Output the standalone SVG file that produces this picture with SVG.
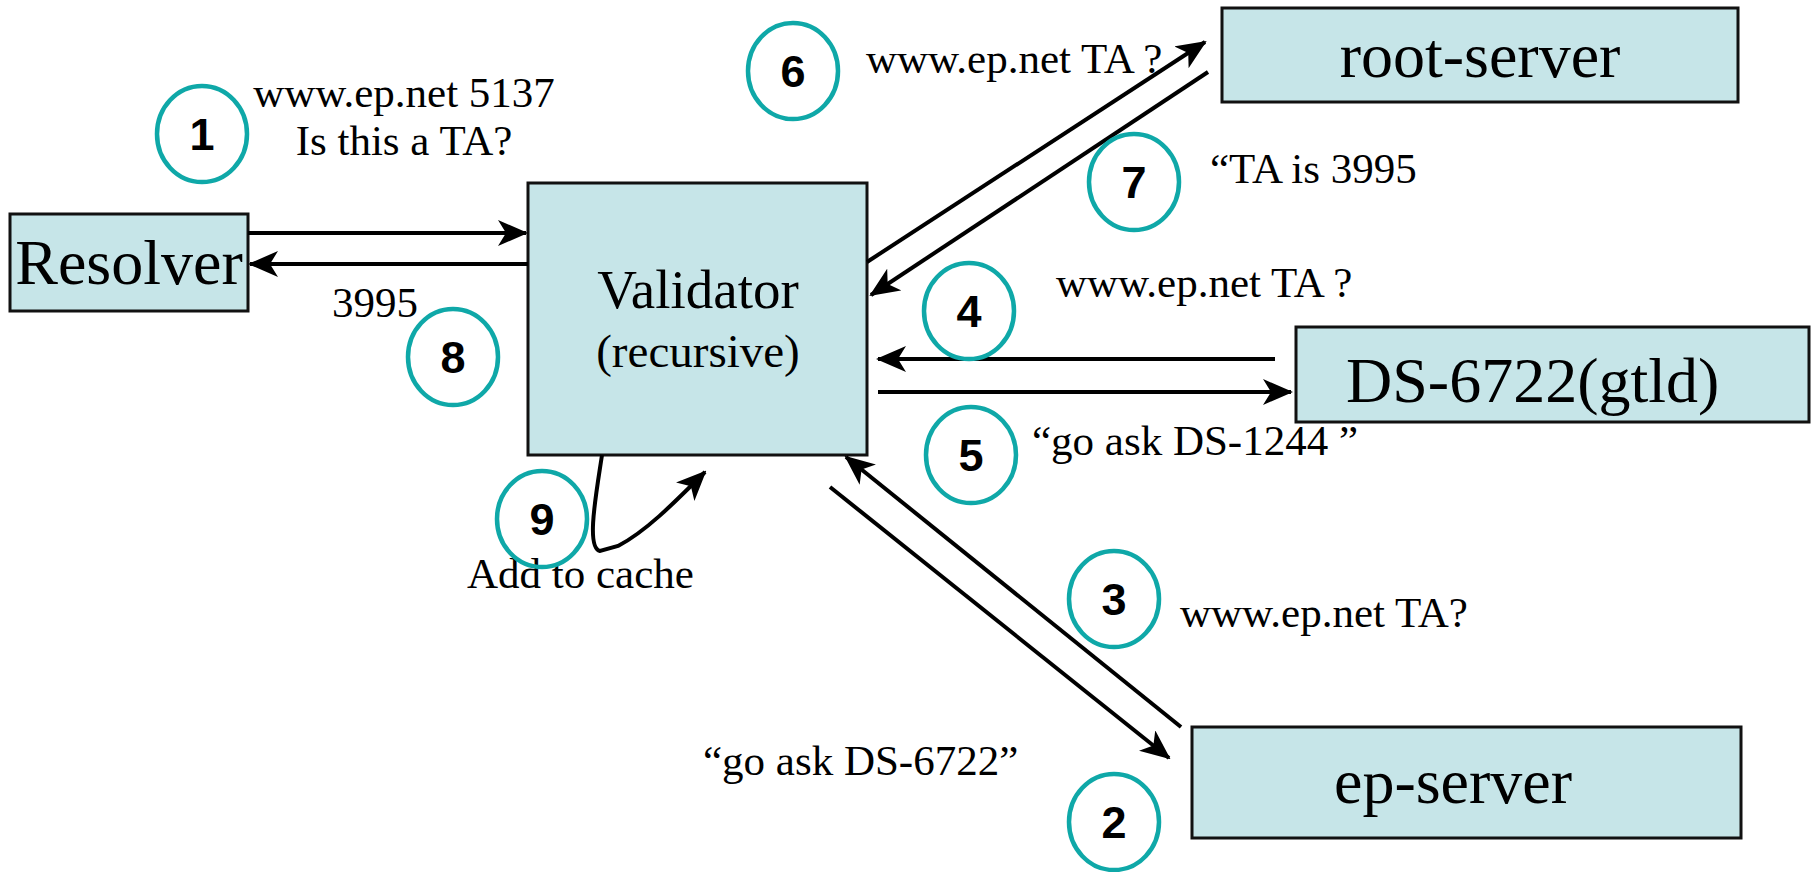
<svg xmlns="http://www.w3.org/2000/svg" width="1811" height="872" viewBox="0 0 1811 872">
<style>
.box{fill:#C6E5E8;stroke:#111;stroke-width:3}
.lbl{font-family:"Liberation Serif","Times New Roman",serif;fill:#000}
.big{font-size:64px}
.mid{font-size:55px}
.rec{font-size:47px}
.sm{font-size:43px}
.step ellipse{fill:none;stroke:#0FA8A8;stroke-width:4.5}
.step text{font-family:"Liberation Sans",Arial,sans-serif;font-weight:bold;font-size:45px;fill:#000;text-anchor:middle}
.con{stroke:#000;stroke-width:4;fill:none}
</style>
<defs>
<marker id="ah" viewBox="0 0 30 26" refX="28" refY="13" markerWidth="30" markerHeight="26" orient="auto" markerUnits="userSpaceOnUse">
<path d="M0,0 L30,13 L0,26 L8,13 Z" fill="#000"/>
</marker>
</defs>
<rect width="1811" height="872" fill="#fff"/>

<g id="resolver"><rect class="box" x="10" y="214" width="238" height="97"/><text class="lbl big" x="129" y="284" text-anchor="middle">Resolver</text></g>
<g id="validator"><rect class="box" x="528" y="183" width="339" height="272"/><text class="lbl mid" x="698" y="308" text-anchor="middle">Validator</text><text class="lbl rec" x="698" y="367" text-anchor="middle">(recursive)</text></g>
<g id="root-server"><rect class="box" x="1222" y="8" width="516" height="94"/><text class="lbl big" x="1480" y="77" text-anchor="middle">root-server</text></g>
<g id="ds-6722"><rect class="box" x="1296" y="327" width="513" height="95"/><text class="lbl big" x="1346" y="402">DS-6722(gtld)</text></g>
<g id="ep-server"><rect class="box" x="1192" y="727" width="549" height="111"/><text class="lbl big" x="1453" y="803" text-anchor="middle">ep-server</text></g>

<g id="connectors">
<line class="con" x1="248" y1="233" x2="526" y2="233" marker-end="url(#ah)"/>
<line class="con" x1="528" y1="264" x2="250" y2="264" marker-end="url(#ah)"/>
<line class="con" x1="867" y1="262" x2="1205" y2="42" marker-end="url(#ah)"/>
<line class="con" x1="1208" y1="72" x2="871" y2="295" marker-end="url(#ah)"/>
<line class="con" x1="1275" y1="359" x2="878" y2="359" marker-end="url(#ah)"/>
<line class="con" x1="878" y1="392" x2="1291" y2="392" marker-end="url(#ah)"/>
<line class="con" x1="1181" y1="727" x2="846" y2="457" marker-end="url(#ah)"/>
<line class="con" x1="830" y1="487" x2="1169" y2="758" marker-end="url(#ah)"/>
<path class="con" d="M602,455 C596,495 586,548 600,551 L618,546 C645,532 672,505 705,472" marker-end="url(#ah)"/>
</g>

<g id="labels">
<text class="lbl sm" x="404" y="107" text-anchor="middle">www.ep.net 5137</text>
<text class="lbl sm" x="404" y="155" text-anchor="middle">Is this a TA?</text>
<text class="lbl sm" x="332" y="317">3995</text>
<text class="lbl sm" x="866" y="73">www.ep.net TA ?</text>
<text class="lbl sm" x="1210" y="183">“TA is 3995</text>
<text class="lbl sm" x="1056" y="297">www.ep.net TA ?</text>
<text class="lbl sm" x="1032" y="455">“go ask DS-1244 ”</text>
<text class="lbl sm" x="467" y="588">Add to cache</text>
<text class="lbl sm" x="1180" y="627">www.ep.net TA?</text>
<text class="lbl sm" x="703" y="775">“go ask DS-6722”</text>
</g>

<g id="step1" class="step"><ellipse cx="202" cy="134" rx="45" ry="48"/><text x="202" y="150">1</text></g>
<g id="step2" class="step"><ellipse cx="1114" cy="822" rx="45" ry="48"/><text x="1114" y="838">2</text></g>
<g id="step3" class="step"><ellipse cx="1114" cy="599" rx="45" ry="48"/><text x="1114" y="615">3</text></g>
<g id="step4" class="step"><ellipse cx="969" cy="311" rx="45" ry="48"/><text x="969" y="327">4</text></g>
<g id="step5" class="step"><ellipse cx="971" cy="455" rx="45" ry="48"/><text x="971" y="471">5</text></g>
<g id="step6" class="step"><ellipse cx="793" cy="71" rx="45" ry="48"/><text x="793" y="87">6</text></g>
<g id="step7" class="step"><ellipse cx="1134" cy="182" rx="45" ry="48"/><text x="1134" y="198">7</text></g>
<g id="step8" class="step"><ellipse cx="453" cy="357" rx="45" ry="48"/><text x="453" y="373">8</text></g>
<g id="step9" class="step"><ellipse cx="542" cy="519" rx="45" ry="48"/><text x="542" y="535">9</text></g>
</svg>
